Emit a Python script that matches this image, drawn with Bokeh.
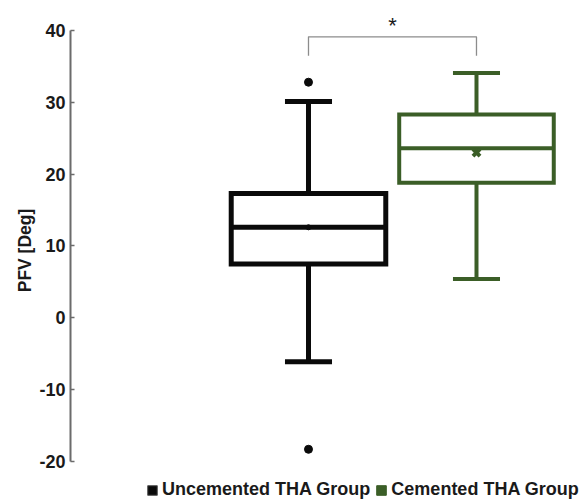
from bokeh.plotting import figure
from bokeh.models import Range1d, Legend, LegendItem, FixedTicker
from bokeh.core.properties import value
from bokeh.embed import file_html
from bokeh.resources import INLINE

# ---- data ----
groups = ["Uncemented THA Group", "Cemented THA Group"]
positions = [1, 2]
colors = ["#0a0a0a", "#3b5e27"]
q1 = [7.5, 18.8]
median = [12.6, 23.6]
q3 = [17.3, 28.3]
lower_whisker = [-6.1, 5.4]
upper_whisker = [30.1, 34.1]
mean = [12.6, 23.0]
outlier_x = [1, 1]
outlier_y = [32.8, -18.3]
y_ticks = [-20, -10, 0, 10, 20, 30, 40]
sig_pair = [1, 2]
sig_label = "*"

box_w = 0.92
cap_w = 0.28
line_ws = [5, 4]

p = figure(width=583, height=500, output_backend="svg", toolbar_location=None,
           x_range=Range1d(-0.4167, 2.637), y_range=Range1d(-25.43, 44.176),
           min_border_left=70, min_border_right=0, min_border_top=0, min_border_bottom=0,
           x_axis_location=None)
p.outline_line_color = None
p.grid.visible = False
p.background_fill_color = "white"

ax = p.yaxis[0]
ax.bounds = (-20, 40)
ax.ticker = FixedTicker(ticks=y_ticks)
ax.major_label_overrides = {t: str(t) for t in y_ticks}
ax.axis_line_color = "#6b6b6b"
ax.axis_line_width = 2
ax.major_tick_in = 4
ax.major_tick_out = 0
ax.major_tick_line_color = "#6b6b6b"
ax.major_tick_line_width = 1.5
ax.minor_tick_line_color = None
ax.major_label_text_font = "Liberation Sans"
ax.major_label_text_font_style = "bold"
ax.major_label_text_font_size = "18px"
ax.major_label_text_color = "#1a1a1a"
ax.major_label_standoff = 5
ax.axis_label = "PFV [Deg]"
ax.axis_label_text_font = "Liberation Sans"
ax.axis_label_text_font_style = "bold"
ax.axis_label_text_font_size = "17.5px"
ax.axis_label_text_color = "#1a1a1a"
ax.axis_label_standoff = 1

for i in range(2):
    x = positions[i]
    c = colors[i]
    lw = line_ws[i]
    # whiskers
    p.segment(x0=[x, x], y0=[q3[i], q1[i]], x1=[x, x], y1=[upper_whisker[i], lower_whisker[i]],
              line_color=c, line_width=lw)
    p.segment(x0=[x - cap_w / 2] * 2, x1=[x + cap_w / 2] * 2,
              y0=[upper_whisker[i], lower_whisker[i]], y1=[upper_whisker[i], lower_whisker[i]],
              line_color=c, line_width=lw)
    # box
    p.quad(left=[x - box_w / 2], right=[x + box_w / 2], bottom=[q1[i]], top=[q3[i]],
           fill_color="white", line_color=c, line_width=lw, line_join="miter")
    # median
    p.segment(x0=[x - box_w / 2], x1=[x + box_w / 2], y0=[median[i]], y1=[median[i]],
              line_color=c, line_width=lw)

# means
p.scatter(x=[positions[0]], y=[mean[0]], marker="circle", size=5, color=colors[0])
p.scatter(x=[positions[1]], y=[mean[1]], marker="x", size=10, line_color=colors[1], line_width=4)

# outliers
p.scatter(x=outlier_x, y=outlier_y, marker="circle", size=8, color=colors[0])

# significance bracket
br_top = 39.1
br_end = 36.5
p.line(x=[sig_pair[0], sig_pair[0], sig_pair[1], sig_pair[1]],
       y=[br_end, br_top, br_top, br_end], line_color="#8c8c8c", line_width=1.3,
       line_join="round")
p.text(x=[(sig_pair[0] + sig_pair[1]) / 2], y=[42.44], text=[sig_label],
       text_font=value("Liberation Sans"), text_font_size="22px",
       text_align="center", text_baseline="top", text_color="#1a1a1a")

# legend (proxy renderers with no visible points)
nan = float("nan")
r1 = p.quad(left=[nan], right=[nan], bottom=[nan], top=[nan],
            fill_color=colors[0], line_color="#555555", line_width=1)
r2 = p.quad(left=[nan], right=[nan], bottom=[nan], top=[nan],
            fill_color=colors[1], line_color=colors[1], line_width=1)
legend = Legend(items=[LegendItem(label=groups[0], renderers=[r1]),
                       LegendItem(label=groups[1], renderers=[r2])],
                orientation="horizontal", location=(76, 0),
                glyph_width=12, glyph_height=12, label_standoff=4, spacing=5,
                padding=0, margin=1, border_line_color=None, background_fill_alpha=0,
                label_text_font="Liberation Sans", label_text_font_style="bold",
                label_text_font_size="18px", label_text_color="#1a1a1a",
                label_height=14)
p.add_layout(legend, "center")

open("out.html", "w").write(file_html(p, INLINE))
